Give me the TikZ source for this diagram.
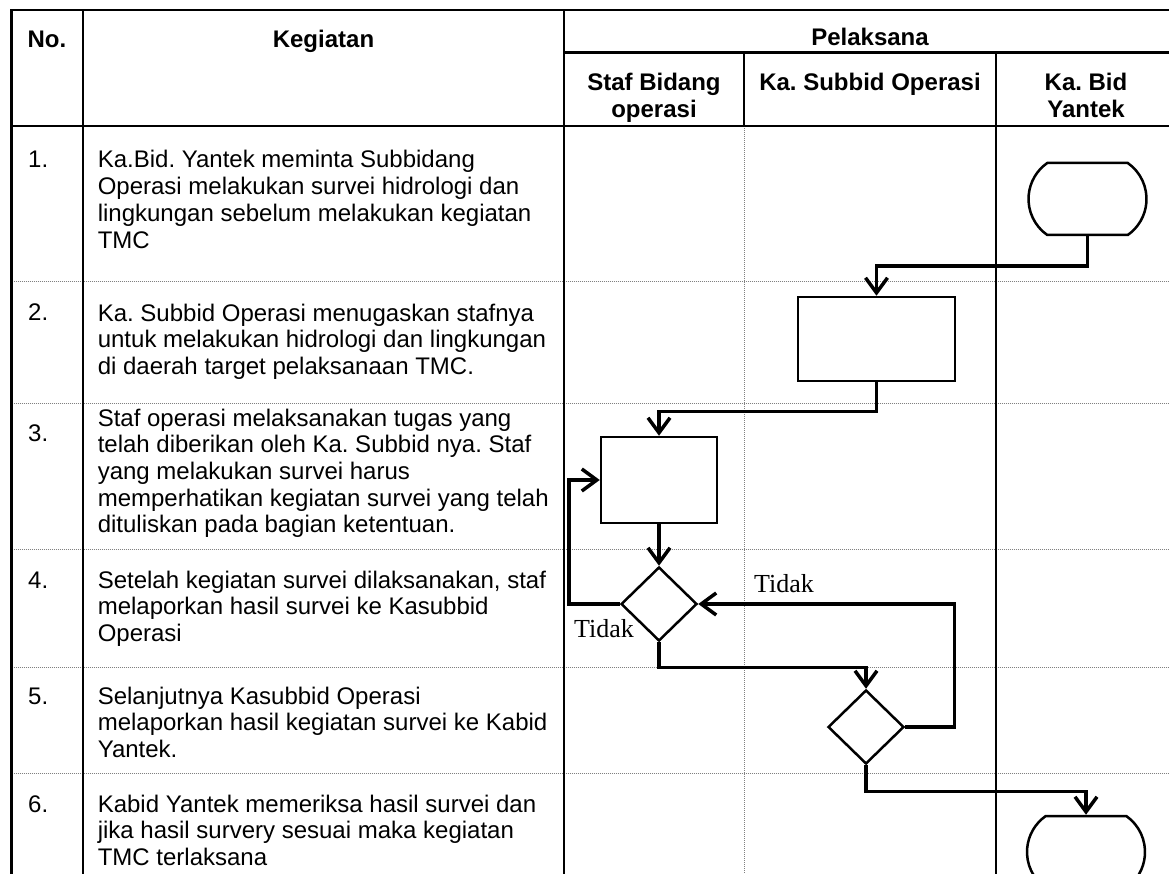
\documentclass[tikz,border=0pt]{standalone}
\usepackage{fontspec}
\setmainfont{Liberation Sans}
\newfontfamily\tidakfont{Liberation Serif}
\usetikzlibrary{shapes.geometric,shapes.misc,arrows.meta}
\frenchspacing
\tikzset{
  lab/.style={font=\fontsize{24}{26.7}\selectfont, align=left, anchor=base west, inner sep=0pt},
  num/.style={font=\fontsize{24}{26.7}\selectfont, anchor=base west, inner sep=0pt},
  head/.style={font=\fontsize{24}{26.7}\selectfont\bfseries, align=center, anchor=base, inner sep=0pt},
  tidak/.style={font=\fontsize{26}{28}\selectfont\tidakfont, inner sep=0pt},
  frame/.style={line width=2.5pt},
  rowline/.style={line width=0.9pt, gray, dash pattern=on 1pt off 1pt},
  process/.style={draw, line width=2.5pt, rectangle, inner sep=0pt},
  decision/.style={draw, line width=2.5pt, diamond, inner sep=0pt, minimum width=76pt, minimum height=74pt},
  terminal/.style={draw, line width=2.5pt, rounded rectangle, rounded rectangle arc length=110, inner sep=0pt, minimum width=118pt, minimum height=72pt},
  flow/.style={line width=3.5pt, -{Straight Barb[length=15pt,width=22pt]}}
}
\begin{document}
\begin{tikzpicture}[x=1pt,y=-1pt]
    \useasboundingbox (0,0) rectangle (1169,874);
    \fill[white] (0,0) rectangle (1169,874);
    \clip (0,0) rectangle (1169,874);

    % Grid
    \foreach \y in {281,403,549,667,773}
      \draw[rowline] (11.5,\y) -- (1169,\y);
    \draw[rowline] (744,126) -- (744,874);
    \draw[frame] (11.5,874) -- (11.5,10) -- (1180,10);
    \draw[frame] (11.5,126) -- (1180,126);
    \draw[frame] (564,52.7) -- (1180,52.7);
    \draw[frame] (83,10) -- (83,874);
    \draw[frame] (564,10) -- (564,874);
    \draw[frame] (744,52.7) -- (744,126);
    \draw[frame] (996,52.7) -- (996,874);

    % Header (base = last line)
    \node[head] (hno) at (47,48) {No.};
    \node[head] (hkeg) at (323.5,48) {Kegiatan};
    \node[head] (hpel) at (870,46) {Pelaksana};
    \node[head] (hstaf) at (654,117.7) {Staf Bidang\\operasi};
    \node[head] (hsub) at (870,91) {Ka. Subbid Operasi};
    \node[head] (hbid) at (1086,117.7) {Ka. Bid\\Yantek};

    % Kegiatan
    \node[num] (n1) at (28,168) {1.};
    \node[lab] (k1) at (97.6,248.1) {Ka.Bid. Yantek meminta Subbidang\\Operasi melakukan survei hidrologi dan\\lingkungan sebelum melakukan kegiatan\\TMC};
    \node[num] (n2) at (28,321) {2.};
    \node[lab] (k2) at (97.6,374.4) {Ka. Subbid Operasi menugaskan stafnya\\untuk melakukan hidrologi dan lingkungan\\di daerah target pelaksanaan TMC.};
    \node[num] (n3) at (28,441) {3.};
    \node[lab] (k3) at (97.6,532.8) {Staf operasi melaksanakan tugas yang\\telah diberikan oleh Ka. Subbid nya. Staf\\yang melakukan survei harus\\memperhatikan kegiatan survei yang telah\\dituliskan pada bagian ketentuan.};
    \node[num] (n4) at (28,588) {4.};
    \node[lab] (k4) at (97.6,641.4) {Setelah kegiatan survei dilaksanakan, staf\\melaporkan hasil survei ke Kasubbid\\Operasi};
    \node[num] (n5) at (28,704) {5.};
    \node[lab] (k5) at (97.6,757.4) {Selanjutnya Kasubbid Operasi\\melaporkan hasil kegiatan survei ke Kabid\\Yantek.};
    \node[num] (n6) at (28,812) {6.};
    \node[lab] (k6) at (97.6,865.4) {Kabid Yantek memeriksa hasil survei dan\\jika hasil survery sesuai maka kegiatan\\TMC terlaksana};

    % Flow
    \node[terminal] (mulai) at (1087.5,199) {};
    \node[process, minimum width=157pt, minimum height=84pt] (tugas) at (876.5,339) {};
    \node[process, minimum width=116pt, minimum height=86pt] (survei) at (659,480) {};
    \node[decision] (cek1) at (659,604) {};
    \node[decision] (cek2) at (866,727) {};
    \node[terminal] (selesai) at (1086,852) {};
    \node[tidak] (tdk1) at (784,584) {Tidak};
    \node[tidak] (tdk2) at (604,629) {Tidak};

    \draw[flow] (mulai.south) -- ++(0,30) -| (tugas.north);
    \draw[flow] (tugas.south) -- ++(0,29) -| (survei.north);
    \draw[flow] (survei.south) -- (cek1.north);
    \draw[flow] (cek1.west) -- ++(-51,0) |- (survei.west);
    \draw[flow] (cek1.south) -- ++(0,25) -| (cek2.north);
    \draw[flow] (cek2.east) -- ++(49,0) |- (cek1.east);
    \draw[flow] (cek2.south) -- ++(0,26) -| (selesai.north);
\end{tikzpicture}
\end{document}
